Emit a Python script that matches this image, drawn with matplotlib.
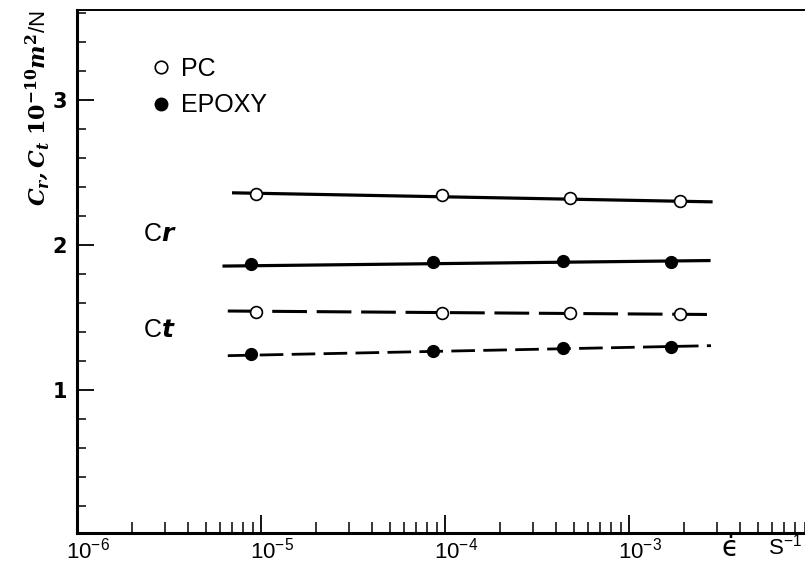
import matplotlib
matplotlib.use("Agg")
import matplotlib.pyplot as plt
import matplotlib.transforms as mtransforms
from matplotlib.lines import Line2D
from matplotlib.ticker import LogLocator, NullFormatter, FixedLocator, MultipleLocator

plt.rcParams['mathtext.default'] = 'regular'
plt.rcParams['lines.scale_dashes'] = False

# strain rate (1/s) of the measured points
rate_pc = [9.4e-6, 9.6e-5, 4.75e-4, 1.89e-3]
rate_ep = [8.8e-6, 8.6e-5, 4.36e-4, 1.70e-3]

# compliances, 1e-10 m^2/N
cr_pc = [2.352, 2.345, 2.324, 2.303]
cr_ep = [1.867, 1.885, 1.892, 1.881]
ct_pc = [1.540, 1.529, 1.529, 1.522]
ct_ep = [1.246, 1.271, 1.292, 1.299]

# drawn fit lines: end points
fit_cr_pc_x = [7.1e-6, 2.79e-3]
fit_cr_pc_y = [2.360, 2.298]
fit_cr_ep_x = [6.3e-6, 2.72e-3]
fit_cr_ep_y = [1.855, 1.893]
fit_ct_pc_x = [6.6e-6, 2.72e-3]
fit_ct_pc_y = [1.545, 1.521]
fit_ct_ep_x = [6.6e-6, 2.79e-3]
fit_ct_ep_y = [1.237, 1.306]

xtick_vals = [1e-6, 1e-5, 1e-4, 1e-3]
xtick_labels = ['10$^{-6}$', '10$^{-5}$', '10$^{-4}$', '10$^{-3}$']
ytick_vals = [1, 2, 3]

narrow = ['Liberation Sans Narrow', 'Liberation Sans', 'DejaVu Sans']

fig = plt.figure(figsize=(8.05, 5.67), dpi=100)
W, H = 805, 567
ax = fig.add_axes([77 / W, 1 - 533 / H, (805 - 77) / W, (533 - 10) / H])

# fit lines
ax.plot(fit_cr_pc_x, fit_cr_pc_y, color='k', lw=2.3, zorder=2)
ax.plot(fit_cr_ep_x, fit_cr_ep_y, color='k', lw=2.3, zorder=2)
ax.plot(fit_ct_pc_x, fit_ct_pc_y, color='k', lw=2.2, dashes=(25, 7), zorder=2)
ax.plot(fit_ct_ep_x, fit_ct_ep_y, color='k', lw=2.0, dashes=(17, 6), zorder=2)

# data points
for y in (cr_pc, ct_pc):
    ax.plot(rate_pc, y, 'o', ms=8.5, mfc='white', mec='k', mew=1.2, ls='none', zorder=3)
for y in (cr_ep, ct_ep):
    ax.plot(rate_ep, y, 'o', ms=8.5, mfc='k', mec='k', ls='none', zorder=3)

ax.set_xscale('log')
ax.set_xlim(1e-6, 10 ** (-6 + 728 / 184))
ax.set_ylim(0.014, 3.621)

ax.xaxis.set_major_locator(FixedLocator(xtick_vals))
ax.set_xticklabels(xtick_labels, fontsize=16, family=narrow)
ax.xaxis.set_minor_locator(LogLocator(base=10, subs=range(2, 10), numticks=20))
ax.xaxis.set_minor_formatter(NullFormatter())
ax.yaxis.set_major_locator(FixedLocator(ytick_vals))
ax.set_yticklabels([str(v) for v in ytick_vals], fontsize=15, fontweight='bold')
ax.yaxis.set_minor_locator(MultipleLocator(0.2))

ax.tick_params(axis='x', which='major', direction='in', length=13, width=1.3, pad=3)
ax.tick_params(axis='x', which='minor', direction='in', length=8, width=1.1)
ax.tick_params(axis='y', which='major', direction='in', length=12, width=1.3, pad=7)
ax.tick_params(axis='y', which='minor', direction='in', length=6.5, width=1.1)
ax.tick_params(top=False, right=False, which='both')

# shift "10^n" labels so the base sits on the tick
offset = mtransforms.ScaledTranslation(11 / 100, 0, fig.dpi_scale_trans)
for lab in ax.get_xticklabels():
    lab.set_transform(lab.get_transform() + offset)

ax.spines['left'].set_linewidth(2.2)
ax.spines['bottom'].set_linewidth(2.2)
ax.spines['top'].set_linewidth(1.4)
ax.spines['right'].set_visible(False)

# legend
handles = [Line2D([], [], marker='o', ls='none', ms=9, mfc='white', mec='k', mew=1.2),
           Line2D([], [], marker='o', ls='none', ms=9, mfc='k', mec='k')]
leg = ax.legend(handles, ['PC', 'EPOXY'], loc='upper left',
                bbox_to_anchor=(153 / W, 1 - 57 / H), bbox_transform=fig.transFigure,
                frameon=False, handlelength=0.6, handletextpad=0.5, labelspacing=0.5,
                prop={'family': narrow, 'size': 18}, borderpad=0, borderaxespad=0)

# curve group labels
fig.text(143 / W, 1 - 234 / H, 'C$\\mathbfit{r}$', fontsize=18, family=narrow, va='center')
fig.text(143 / W, 1 - 330 / H, 'C$\\mathbfit{t}$', fontsize=18, family=narrow, va='center')

# axis labels
fig.text(38 / W, 1 - 108 / H,
         r'$\mathbfit{C_r, C_t}\ \mathbf{10^{-10}}\mathbfit{m}^{\mathbf{2}}$/N',
         rotation=90, ha='center', va='center', fontsize=16, math_fontfamily='dejavuserif',
         family=narrow)
fig.text(730 / W, 1 - 556 / H, '\u03f5\u0307', fontsize=20, ha='center', va='baseline',
         family='DejaVu Sans')
fig.text(768 / W, 1 - 547 / H, 'S$^{-1}$', fontsize=16, family=narrow, ha='left', va='center')

fig.savefig('out.png', dpi=100)
